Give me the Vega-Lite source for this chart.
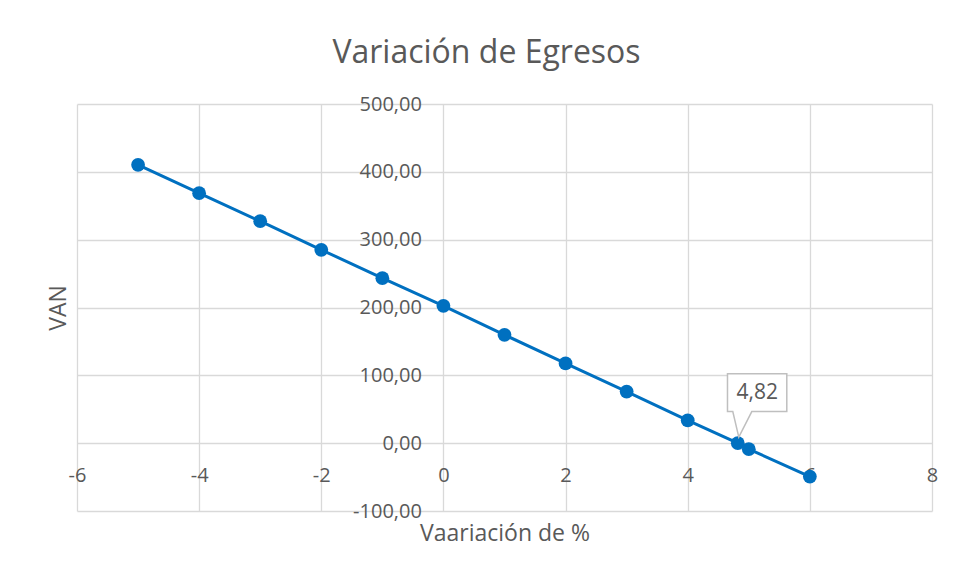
{
  "$schema": "https://vega.github.io/schema/vega-lite/v6.json",
  "width": 855,
  "height": 407,
  "autosize": {"type": "none"},
  "padding": {"left": 77, "top": 104, "right": 27, "bottom": 67},
  "background": "white",
  "config": {
    "view": {"stroke": null},
    "font": "Open Sans",
    "axis": {
      "labelFont": "Open Sans",
      "titleFont": "Open Sans",
      "labelColor": "#595959",
      "titleColor": "#595959",
      "gridColor": "#d9d9d9",
      "gridWidth": 1.3,
      "titleFontWeight": "normal"
    }
  },
  "title": {
    "text": "Variación de Egresos",
    "fontSize": 32,
    "font": "Open Sans",
    "fontWeight": "normal",
    "color": "#595959",
    "dx": -18,
    "offset": 24
  },
  "data": {
    "values": [
      {"x": -5, "v": 410.3},
      {"x": -4, "v": 368.6},
      {"x": -3, "v": 327.2},
      {"x": -2, "v": 285.1},
      {"x": -1, "v": 243.3},
      {"x": 0, "v": 202.4},
      {"x": 1, "v": 159.7},
      {"x": 2, "v": 117.5},
      {"x": 3, "v": 76.1},
      {"x": 4, "v": 33.6},
      {"x": 4.82, "v": 0},
      {"x": 5, "v": -8.8},
      {"x": 6, "v": -49.2}
    ]
  },
  "layer": [
    {
      "mark": {"type": "line", "color": "#0070C0", "strokeWidth": 3},
      "encoding": {
        "x": {
          "field": "x", "type": "quantitative",
          "scale": {"domain": [-6, 8], "nice": false, "zero": false},
          "axis": {"orient": "bottom", "grid": true, "values": [-6, -4, -2, 0, 2, 4, 6, 8], "labels": false, "ticks": false, "domain": false, "title": "Vaariación de %", "titleFontSize": 23, "titlePadding": 11}
        },
        "y": {
          "field": "v", "type": "quantitative",
          "scale": {"domain": [-100, 500], "nice": false, "zero": false},
          "axis": {"orient": "left", "grid": true, "values": [-100, 0, 100, 200, 300, 400, 500], "labels": false, "ticks": false, "domain": false, "title": "VAN", "titleFontSize": 23, "titlePadding": 7}
        }
      }
    },
    {
      "mark": {"type": "point", "filled": true, "color": "#0070C0", "size": 190, "opacity": 1},
      "encoding": {
        "x": {
          "field": "x", "type": "quantitative",
          "axis": {"orient": "bottom", "offset": -67.83, "grid": false, "ticks": false, "domain": false, "values": [-6, -4, -2, 0, 2, 4, 6, 8], "labelFontSize": 20, "labelPadding": 22.5, "labelFlush": false, "labelOverlap": false, "labelBound": false, "title": null, "labelExpr": "replace(datum.label, '−', '-')"}
        },
        "y": {
          "field": "v", "type": "quantitative",
          "axis": {"orient": "left", "offset": -366.4, "grid": false, "ticks": false, "domain": false, "values": [-100, 0, 100, 200, 300, 400, 500], "labelFontSize": 20, "labelPadding": 22, "labelFlush": false, "labelOverlap": false, "title": null, "labelExpr": "replace(replace(format(datum.value, '.2f'), '.', ','), '−', '-')"}
        }
      }
    },
    {
      "data": {"values": [{"x": 4.82, "v": 0, "label": "4,82"}]},
      "mark": {
        "type": "point",
        "filled": true,
        "fill": "white",
        "stroke": "#bfbfbf",
        "strokeWidth": 1.5,
        "opacity": 1,
        "size": 400,
        "shape": "M-1.03,-6.93 L4.9,-6.93 L4.9,-3.16 L1.4,-3.16 L0.1,-0.6 L-0.5,-3.16 L-1.03,-3.16 Z"
      },
      "encoding": {
        "x": {"field": "x", "type": "quantitative", "axis": null},
        "y": {"field": "v", "type": "quantitative", "axis": null}
      }
    },
    {
      "data": {"values": [{"x": 4.82, "v": 0, "label": "4,82"}]},
      "mark": {"type": "text", "font": "Open Sans", "fontSize": 21, "color": "#595959", "align": "center", "baseline": "middle", "dx": 19.5, "dy": -50.3},
      "encoding": {
        "x": {"field": "x", "type": "quantitative", "axis": null},
        "y": {"field": "v", "type": "quantitative", "axis": null},
        "text": {"field": "label"}
      }
    }
  ],
  "resolve": {"axis": {"x": "independent", "y": "independent"}}
}
